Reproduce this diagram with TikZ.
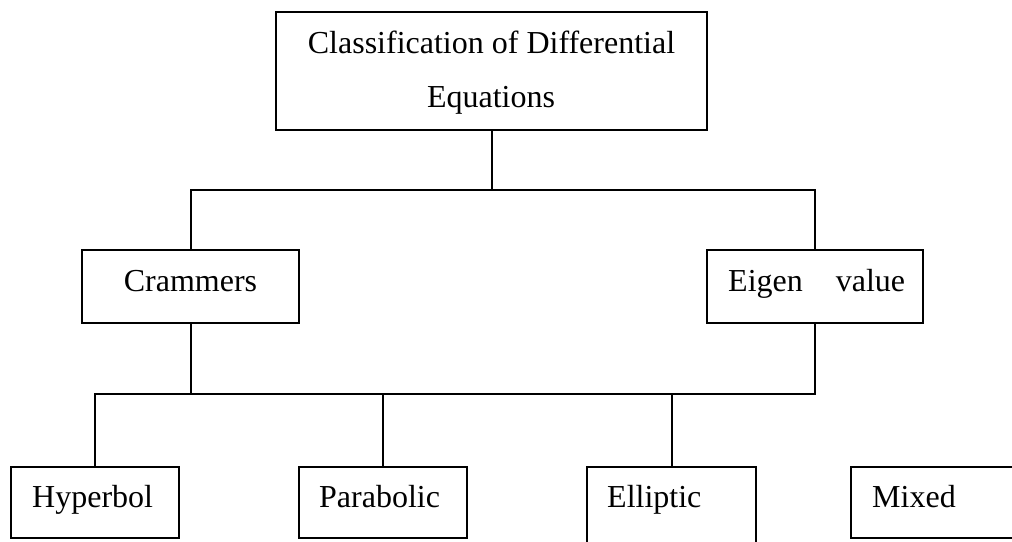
\documentclass[tikz,border=0pt]{standalone}
\usepackage{fontspec}
\setmainfont{Liberation Serif}
\begin{document}
\begin{tikzpicture}[x=1pt,y=-1pt,
  box/.style={draw=black,line width=2pt,rectangle,inner sep=0pt,minimum width=#1},
  txt/.style={inner sep=0pt,font=\fontsize{32}{38}\selectfont},
  conn/.style={draw=black,line width=2pt}]
\useasboundingbox (0,0) rectangle (1012,541);
\clip (0,0) rectangle (1012,541);
% boxes
\node[box=431pt,minimum height=118pt] (top) at (491.5,71) {};
\node[box=217pt,minimum height=73pt] (cram) at (190.5,286.5) {};
\node[box=216pt,minimum height=73pt] (eig) at (815,286.5) {};
\node[box=168pt,minimum height=71pt] (hyp) at (95,502.5) {};
\node[box=168pt,minimum height=71pt] (par) at (383,502.5) {};
\node[box=169pt,minimum height=90pt] (ell) at (671.5,512) {};
\node[box=169pt,minimum height=71pt] (mix) at (935.5,502.5) {};
% texts
\node[txt,anchor=base] (t1) at (491.5,53) {Classification of Differential};
\node[txt,anchor=base] (t2) at (491,107) {Equations};
\node[txt,anchor=base] (tc) at (190.5,291) {Crammers};
\node[txt,anchor=base west] (te) at (728,291) {Eigen \hspace{25pt}value};
\node[txt,anchor=base west] (th) at (32,507) {Hyperbol};
\node[txt,anchor=base west] (tp) at (319,507) {Parabolic};
\node[txt,anchor=base west] (tl) at (607,507) {Elliptic};
\node[txt,anchor=base west] (tm) at (872,507) {Mixed};
% connectors
\coordinate (j1) at (491.5,190);
\coordinate (j2) at (190.5,394);
\draw[conn] (top.south) -- (j1);
\draw[conn] (cram.north) |- (j1) -| (eig.north);
\draw[conn] (cram.south) -- (j2);
\draw[conn] (hyp.north) |- (j2) -| (eig.south);
\draw[conn] (par.north) -- (par.north |- j2);
\draw[conn] (ell.north) -- (ell.north |- j2);
\end{tikzpicture}
\end{document}
